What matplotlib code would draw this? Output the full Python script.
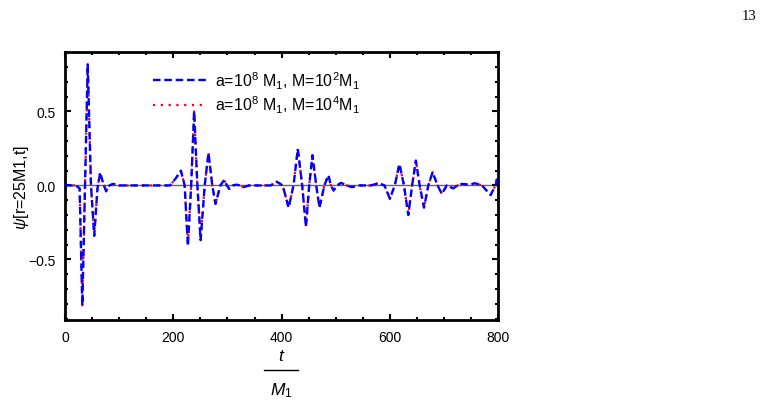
import matplotlib.pyplot as plt
from matplotlib.lines import Line2D
from matplotlib.ticker import MultipleLocator

plt.rcParams['font.family'] = ['Liberation Sans', 'DejaVu Sans']
plt.rcParams['mathtext.fontset'] = 'custom'
plt.rcParams['mathtext.rm'] = 'Liberation Sans'
plt.rcParams['mathtext.it'] = 'Liberation Sans:italic'

# t / M1 and psi (extrema and crossings)
t_vals = [0, 20, 27, 32, 37, 42, 48, 54, 60, 65, 70, 76, 82, 89, 100, 120, 140,
          160, 180, 194, 205, 214, 221, 227, 233, 238.5, 244.5, 250.5, 258, 265,
          272, 278, 287, 294, 299, 303.5, 310, 317, 323, 329.5, 340, 360, 380,
          391, 402, 413, 422, 430, 438, 445, 451, 457, 464, 470, 479, 486.5, 491,
          496, 502, 510, 520, 530, 540, 551, 565, 579, 590, 600, 609, 617.6, 626,
          634, 641, 648, 655, 663, 671, 679, 688, 696, 705, 717, 725, 733, 748,
          757, 770, 786, 795, 800]
psi_m2 = [0, 0, -0.02, -0.81, 0, 0.82, 0, -0.34, -0.02, 0.087, 0.02, -0.04, 0,
          0.01, 0, 0, 0, 0, 0, 0, 0.05, 0.10, 0, -0.41, 0, 0.50, 0, -0.37, 0,
          0.22, 0, -0.125, 0, 0.037, 0, -0.024, 0, 0.005, 0, -0.012, 0, 0, 0,
          0.025, 0, -0.15, 0, 0.247, 0, -0.28, 0, 0.205, 0, -0.15, 0, 0.07, 0,
          -0.035, 0, 0.017, 0, -0.012, 0, 0, 0, 0.015, 0, -0.09, 0, 0.145, 0,
          -0.20, 0, 0.168, 0, -0.15, 0, 0.09, 0, -0.057, 0, -0.02, 0, 0.01,
          0.005, 0.015, 0, -0.065, 0, 0.08]
# the M=10^4 M1 curve lies on top of the other one
psi_m4 = list(psi_m2)

label_m2 = r'a=10$^8$ M$_1$, M=10$^2$M$_1$'
label_m4 = r'a=10$^8$ M$_1$, M=10$^4$M$_1$'

fig = plt.figure(figsize=(7.7, 4.06), dpi=100)
ax = fig.add_axes([0.0844, 0.209, 0.5626, 0.660])

ax.axhline(0, color='#666666', lw=1.0, zorder=1)
ax.plot(t_vals, psi_m4, color='red', ls=(0, (1, 2.5)), lw=1.6, label=label_m4, zorder=2)
ax.plot(t_vals, psi_m2, color='blue', ls=(0, (3.2, 1.6)), lw=1.7, label=label_m2, zorder=3)

ax.set_xlim(0, 800)
ax.set_ylim(-0.91, 0.90)
ax.xaxis.set_major_locator(MultipleLocator(200))
ax.xaxis.set_minor_locator(MultipleLocator(50))
ax.yaxis.set_minor_locator(MultipleLocator(0.1))
ax.set_yticks([-0.5, 0.0, 0.5])
ax.set_yticklabels(['\u22120.5', '0.0', '0.5'])
ax.tick_params(which='both', direction='in', top=True, right=True, labelsize=10, width=1.5)
ax.tick_params(which='major', length=4.5, pad=7)
ax.tick_params(which='minor', length=2.5)
for s in ax.spines.values():
    s.set_linewidth(2.0)

handles, labels = ax.get_legend_handles_labels()
ax.legend(handles[::-1], labels[::-1], loc='upper left', bbox_to_anchor=(0.17, 0.99),
          frameon=False, fontsize=11.5, handlelength=3.3, labelspacing=0.2, handletextpad=0.6)

ax.set_ylabel(r'$\psi$[r=25M1,t]', fontsize=11.5, labelpad=-2)

# x label as a fraction t / M1
fig.text(0.365, 0.122, 't', fontsize=12.5, style='italic', ha='center', va='center')
fig.add_artist(Line2D([0.343, 0.387], [0.085, 0.085], color='black', lw=1.0,
                      transform=fig.transFigure))
fig.text(0.365, 0.038, r'$M_1$', fontsize=12.5, ha='center', va='center')

fig.text(0.983, 0.975, '13', fontsize=10.5, family='Liberation Serif', ha='right', va='top')

fig.savefig('out.png', dpi=100)
